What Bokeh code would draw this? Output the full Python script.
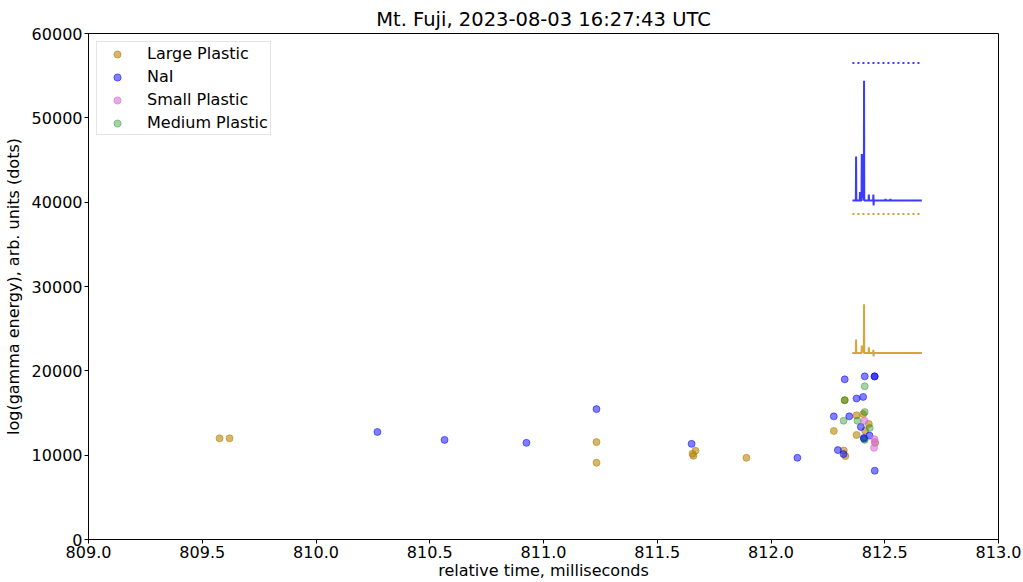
from bokeh.plotting import figure
from bokeh.models import ColumnDataSource, FixedTicker, PrintfTickFormatter, Range1d
from bokeh.embed import file_html
from bokeh.resources import INLINE

# Event scatter: relative time (ms) vs log(gamma energy) in dots
large_t = [809.576, 809.620, 811.233, 811.233, 811.655, 811.668, 811.659, 811.892,
           812.276, 812.376, 812.405, 812.430, 812.376, 812.320, 812.327, 812.414,
           812.458, 812.324]
large_e = [12000, 12000, 11550, 9100, 10160, 10520, 9930, 9690,
           12870, 14720, 14870, 13700, 12400, 10550, 9890, 12900,
           11460, 16520]

nai_t = [810.270, 810.565, 810.925, 811.233, 811.651, 812.116,
         812.324, 812.412, 812.455, 812.456, 812.376, 812.405, 812.276, 812.344,
         812.395, 812.408, 812.409, 812.433, 812.294, 812.319, 812.456]
nai_e = [12750, 11810, 11460, 15460, 11340, 9690,
         18990, 19350, 19350, 19330, 16720, 16910, 14600, 14600,
         13340, 12050, 11950, 12320, 10600, 10130, 8160]

small_t = [812.411, 812.455, 812.456, 812.453]
small_e = [14080, 11890, 11570, 10870]

medium_t = [812.412, 812.324, 812.412, 812.319, 812.380, 812.434, 812.412]
medium_e = [18170, 16520, 15110, 14080, 14080, 13220, 11810]

# Waveform traces (offset to their display baselines)
nai_wave_t = [812.358, 812.373, 812.374, 812.375, 812.390, 812.391, 812.392,
              812.398, 812.399, 812.401, 812.403, 812.405, 812.407, 812.408,
              812.409, 812.410, 812.429, 812.430, 812.431, 812.449, 812.450,
              812.451, 812.452, 812.502, 812.503, 812.504, 812.524, 812.525,
              812.526, 812.663]
nai_wave_v = [40200, 40200, 45400, 40200, 40200, 41200, 40200,
              40200, 45700, 40500, 45700, 40500, 45700, 40200,
              54400, 40200, 40200, 40900, 40200, 40200, 40900,
              39600, 40200, 40200, 40400, 40200, 40200, 40400,
              40200, 40200]

large_wave_t = [812.357, 812.373, 812.374, 812.375, 812.398, 812.399, 812.401,
                812.403, 812.405, 812.407, 812.408, 812.409, 812.410, 812.429,
                812.430, 812.431, 812.449, 812.450, 812.451, 812.452, 812.664]
large_wave_v = [22100, 22100, 23700, 22100, 22100, 23000, 22300,
                23000, 22300, 23000, 22100, 27900, 22100, 22100,
                22800, 22100, 22100, 22500, 21700, 22100, 22100]

# Threshold markers above each trace
thr_t = [812.358, 812.654]
nai_thr = [56500, 56500]
large_thr = [38600, 38600]

x_ticks = [809.0, 809.5, 810.0, 810.5, 811.0, 811.5, 812.0, 812.5, 813.0]
y_ticks = [0, 10000, 20000, 30000, 40000, 50000, 60000]

FONT = "DejaVu Sans"

p = figure(width=1023, height=582, output_backend="svg", toolbar_location=None,
           title="Mt. Fuji, 2023-08-03 16:27:43 UTC",
           x_range=Range1d(809.0, 813.0), y_range=Range1d(0, 60000),
           min_border_left=88, min_border_right=25, min_border_top=33,
           min_border_bottom=36)

p.title.align = "center"
p.title.text_font = FONT
p.title.text_font_size = "19.5px"
p.title.text_font_style = "normal"
p.title.text_color = "black"
p.title.standoff = 6

p.grid.visible = False
p.outline_line_color = "black"
p.outline_line_width = 1
p.outline_line_alpha = 1

for ax in (p.xaxis[0], p.yaxis[0]):
    ax.axis_line_color = "black"
    ax.major_tick_line_color = "black"
    ax.major_tick_out = 4
    ax.major_tick_in = 0
    ax.minor_tick_line_color = None
    ax.major_label_text_font = FONT
    ax.major_label_text_font_size = "16px"
    ax.major_label_text_color = "black"
    ax.axis_label_text_font = FONT
    ax.axis_label_text_font_size = "16px"
    ax.axis_label_text_font_style = "normal"
    ax.axis_label_text_color = "black"
    ax.major_label_standoff = 2

p.xaxis.ticker = FixedTicker(ticks=x_ticks)
p.xaxis.formatter = PrintfTickFormatter(format="%.1f")
p.yaxis.ticker = FixedTicker(ticks=y_ticks)
p.yaxis.formatter = PrintfTickFormatter(format="%d")
p.xaxis.axis_label = "relative time, milliseconds"
p.yaxis.axis_label = "log(gamma energy), arb. units (dots)"
p.xaxis.axis_label_standoff = 0
p.yaxis.axis_label_standoff = 6

# Waveform traces and thresholds
p.line(large_wave_t, large_wave_v, line_color="#d4a63c", line_width=2)
p.line(nai_wave_t, nai_wave_v, line_color="#3c3cff", line_width=2)
p.line(thr_t, nai_thr, line_color="#3c3cff", line_width=2, line_dash="2 3")
p.line(thr_t, large_thr, line_color="#c9a040", line_width=2, line_dash="2 3")

# Detector scatter series
series = [
    ("Large Plastic", large_t, large_e, "#b8860b", 0.6),
    ("NaI", nai_t, nai_e, "#0000ff", 0.5),
    ("Small Plastic", small_t, small_e, "#da70d6", 0.6),
    ("Medium Plastic", medium_t, medium_e, "#008000", 0.35),
]
for name, t, e, color, alpha in series:
    src = ColumnDataSource(dict(t=t, e=e))
    p.scatter("t", "e", source=src, size=7, fill_color=color, line_color=color,
              fill_alpha=alpha, line_alpha=alpha, legend_label=name)

lg = p.legend[0]
lg.location = "top_left"
lg.margin = 8
lg.padding = 2
lg.spacing = 4
lg.label_height = 18
lg.glyph_height = 18
lg.glyph_width = 36
lg.label_standoff = 12
lg.label_text_font = FONT
lg.label_text_font_size = "16px"
lg.label_text_color = "black"
lg.border_line_color = "#cccccc"
lg.border_line_width = 1
lg.background_fill_alpha = 0.8

open("out.html", "w").write(file_html(p, INLINE))
